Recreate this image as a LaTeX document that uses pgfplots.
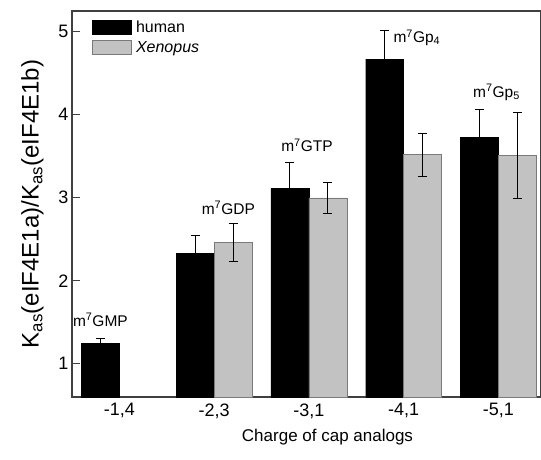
\documentclass[border=0pt]{standalone}
\usepackage{fontspec}
\setmainfont{Liberation Sans}
\usepackage{pgfplots}
\pgfplotsset{compat=1.18}
\definecolor{xengray}{HTML}{C2C2C2}
\definecolor{xenedge}{HTML}{7A7A7A}
\definecolor{axisgray}{HTML}{404040}

\begin{document}
\begin{tikzpicture}
\begin{axis}[
    scale only axis,
    width=469pt, height=386pt,
    ybar,
    xmin=-0.5, xmax=4.45,
    ymin=0.6, ymax=5.25,
    xtick={0,1,2,3,4},
    xticklabels={{-1,4},{-2,3},{-3,1},{-4,1},{-5,1}},
    x tick style={draw=none},
    ytick={1,2,3,4,5},
    ytick pos=left,
    tick align=inside,
    major tick length=8pt,
    tick style={axisgray, line width=1pt},
    axis line style={axisgray, line width=1.2pt},
    /pgf/number format/assume math mode=true,
    ticklabel style={font=\fontsize{18}{20}\selectfont},
    xticklabel style={yshift=-3pt},
    xlabel={Charge of cap analogs},
    ylabel={K\textsubscript{as}(eIF4E1a)/K\textsubscript{as}(eIF4E1b)},
    xlabel style={font=\fontsize{17}{20}\selectfont, yshift=-4pt, xshift=21pt},
    ylabel style={font=\fontsize{24}{27}\selectfont, yshift=8pt},
    bar width=0.4,
    legend style={at={(0.035,0.985)}, anchor=north west, draw=none, fill=none,
        font=\fontsize{16}{18}\selectfont, row sep=3pt},
    legend cell align=left,
    legend image code/.code={\draw[#1] (0pt,-7pt) rectangle (39pt,7pt); \path (42pt,0pt);},
]
\addplot[bar shift=-0.2, fill=black, draw=black,
    error bars/.cd, y dir=both, y explicit,
    error bar style={black, line width=1pt},
    error mark options={rotate=90, mark size=4.5pt, black, line width=1pt}]
coordinates {
    (0,1.25) +- (0,0.06)
    (1,2.33) +- (0,0.21)
    (2,3.11) +- (0,0.31)
    (3,4.67) +- (0,0.34)
    (4,3.73) +- (0,0.33)
};
\addlegendentry{human}
\addplot[bar shift=0.2, fill=xengray, draw=xenedge,
    error bars/.cd, y dir=both, y explicit,
    error bar style={black, line width=1pt},
    error mark options={rotate=90, mark size=4.5pt, black, line width=1pt}]
coordinates {
    (1,2.46) +- (0,0.23)
    (2,3.00) +- (0,0.19)
    (3,3.52) +- (0,0.26)
    (4,3.51) +- (0,0.52)
};
\addlegendentry{\textit{Xenopus}}
\node[font=\fontsize{15.5}{18}\selectfont] at (axis cs:-0.2,1.53) {m\textsuperscript{7}GMP};
\node[font=\fontsize{15.5}{18}\selectfont] at (axis cs:1.15,2.88) {m\textsuperscript{7}GDP};
\node[font=\fontsize{15.5}{18}\selectfont] at (axis cs:1.98,3.63) {m\textsuperscript{7}GTP};
\node[font=\fontsize{15.5}{18}\selectfont] at (axis cs:3.14,4.93) {m\textsuperscript{7}Gp\textsubscript{4}};
\node[font=\fontsize{15.5}{18}\selectfont] at (axis cs:3.98,4.27) {m\textsuperscript{7}Gp\textsubscript{5}};
\end{axis}
\pgfresetboundingbox
\path[use as bounding box] ([shift={(-72pt,-62pt)}]current axis.south west) rectangle ([shift={(0pt,11pt)}]current axis.north east);
\end{tikzpicture}
\end{document}
